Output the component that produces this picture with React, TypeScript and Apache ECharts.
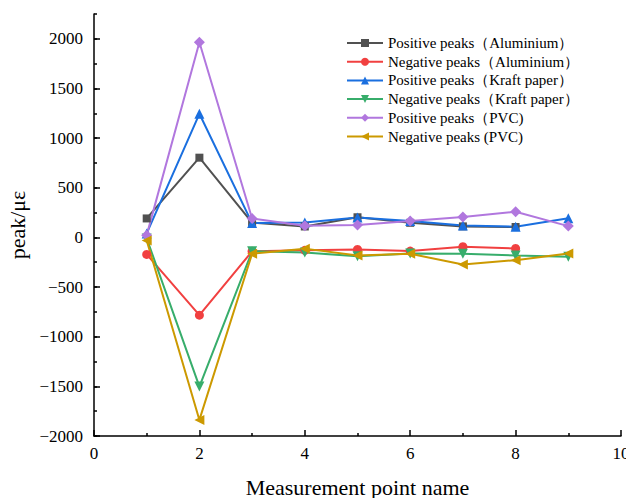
import React, { useEffect, useRef } from "react";
import * as echarts from "echarts";

const xs = [1, 2, 3, 4, 5, 6, 7, 8, 9];
const posAluminium = [191, 803, 150, 110, 203, 147, 111, 105];
const negAluminium = [-171, -783, -140, -130, -121, -138, -94, -111];
const posKraft = [40, 1245, 144, 150, 200, 165, 121, 108, 192];
const negKraft = [-10, -1502, -140, -153, -190, -162, -165, -182, -195];
const posPVC = [23, 1965, 190, 117, 124, 165, 205, 259, 114];
const negPVC = [-30, -1838, -165, -113, -182, -165, -273, -229, -162];

const seriesNames = [
  "Positive peaks（Aluminium）",
  "Negative peaks（Aluminium）",
  "Positive peaks（Kraft paper）",
  "Negative peaks（Kraft paper）",
  "Positive peaks（PVC)",
  "Negative peaks (PVC)",
];
const seriesColors = ["#515151", "#F14040", "#1A6FDF", "#37AD6B", "#B177DE", "#CC9900"];
const yMajor = [-2000, -1500, -1000, -500, 0, 500, 1000, 1500, 2000];
const yMinor = [-2000, -1750, -1500, -1250, -1000, -750, -500, -250, 0, 250, 500, 750, 1000, 1250, 1500, 1750, 2000, 2250];

const FONT = "'Times New Roman', 'Liberation Serif', serif";
const fmt = (v: number) => (v < 0 ? "\u2212" + Math.abs(v) : String(v));

export default function App() {
  const ref = useRef<HTMLDivElement>(null);
  useEffect(() => {
    if (!ref.current) return;
    const chart = echarts.init(ref.current, null, { renderer: "svg" });
    const datasets = [posAluminium, negAluminium, posKraft, negKraft, posPVC, negPVC];
    const symbols = ["rect", "circle", "triangle", "triangle", "diamond", "triangle"];
    const rotates = [0, 0, 0, 180, 0, 90];
    const sizes = [8, 9, 10, 10, 11, 10];
    chart.setOption({
      animation: false,
      grid: { left: 94, right: 5, top: 14, bottom: 62, outerBoundsMode: "none", containLabel: false },
      legend: {
        orient: "vertical",
        left: 346,
        top: 34,
        padding: 0,
        itemWidth: 36,
        itemHeight: 10,
        itemGap: 0.7,
        textStyle: { fontFamily: FONT, fontSize: 15, color: "#000", lineHeight: 18 },
        data: seriesNames,
      },
      xAxis: {
        type: "value",
        min: 0,
        max: 10,
        interval: 2,
        axisLine: { show: true, onZero: false, lineStyle: { color: "#000", width: 1.5 } },
        axisTick: { show: true, inside: true, length: 6, lineStyle: { color: "#000", width: 1.5 } },
        minorTick: { show: true, splitNumber: 2, length: 3, lineStyle: { color: "#000", width: 1.5 } },
        splitLine: { show: false },
        axisLabel: { fontFamily: FONT, fontSize: 17, color: "#000", margin: 9, formatter: fmt },
        name: "Measurement point name",
        nameLocation: "middle",
        nameGap: 40,
        nameTextStyle: { fontFamily: FONT, fontSize: 22, color: "#000" },
      },
      yAxis: [
        {
          type: "value",
          min: -2000,
          max: 2250,
          axisLine: { show: true, onZero: false, lineStyle: { color: "#000", width: 1.5 } },
          axisTick: { show: true, inside: true, length: 6, customValues: yMajor, lineStyle: { color: "#000", width: 1.5 } },
          splitLine: { show: false },
          axisLabel: { fontFamily: FONT, fontSize: 17, color: "#000", margin: 11, customValues: yMajor, formatter: fmt },
          name: "peak/με",
          nameLocation: "middle",
          nameGap: 62,
          nameTextStyle: { fontFamily: FONT, fontSize: 22, color: "#000" },
        },
        {
          type: "value",
          min: -2000,
          max: 2250,
          position: "left",
          axisLine: { show: false, onZero: false },
          axisTick: { show: true, inside: true, length: 3, customValues: yMinor, lineStyle: { color: "#000", width: 1.5 } },
          splitLine: { show: false },
          axisLabel: { show: false },
        },
      ],
      series: datasets.map((d, i) => ({
        name: seriesNames[i],
        type: "line",
        yAxisIndex: 0,
        data: d.map((v, j) => [xs[j], v]),
        symbol: symbols[i],
        symbolRotate: rotates[i],
        symbolSize: sizes[i],
        color: seriesColors[i],
        lineStyle: { width: 2, color: seriesColors[i] },
        itemStyle: { color: seriesColors[i] },
      })),
    });
    return () => chart.dispose();
  }, []);
  return <div ref={ref} style={{ width: 626, height: 498, position: "absolute", left: 0, top: 0 }} />;
}
